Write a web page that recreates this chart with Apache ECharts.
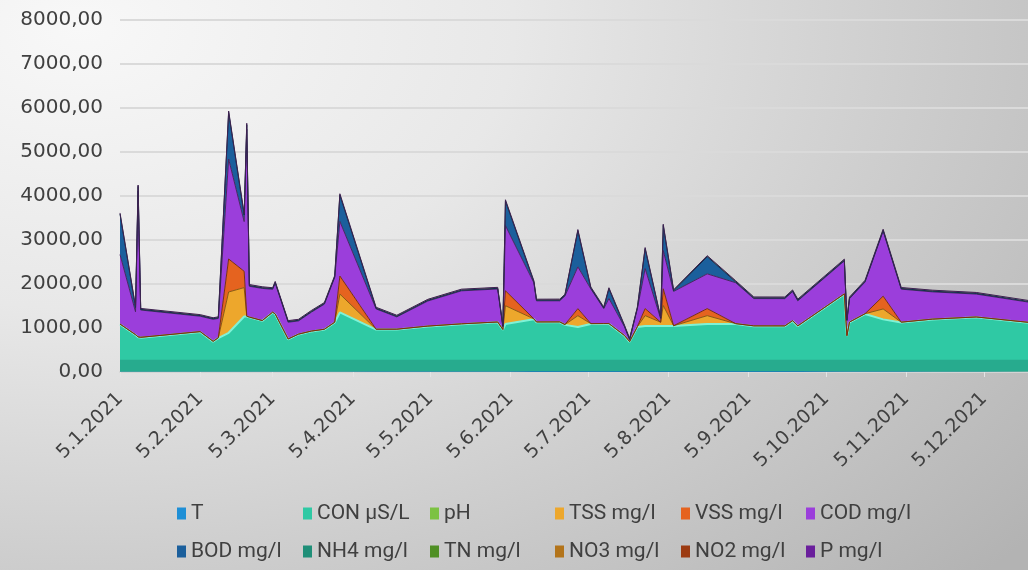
<!DOCTYPE html>
<html>
<head>
<meta charset="utf-8">
<script src="https://cdn.jsdelivr.net/npm/echarts@6/dist/echarts.min.js"></script>
<style>
  html, body { margin: 0; padding: 0; }
  #chart {
    width: 1028px; height: 570px;
    background: radial-gradient(ellipse 120% 140% at 8% 5%, #f8f8f8 0%, #e8e8e8 35%, #cfcfcf 65%, #b3b3b3 100%);
  }
</style>
</head>
<body>
<div id="chart"></div>
<script>
var chart = echarts.init(document.getElementById('chart'));

// sample dates
var dates = ['2021-01-05','2021-01-11','2021-01-12','2021-01-13','2021-02-05','2021-02-10','2021-02-12','2021-02-16','2021-02-22','2021-02-23',
             '2021-02-24','2021-03-01','2021-03-05','2021-03-06','2021-03-11','2021-03-15','2021-03-20','2021-03-25','2021-03-29','2021-03-31',
             '2021-04-14','2021-04-22','2021-05-04','2021-05-17','2021-05-31','2021-06-02','2021-06-03','2021-06-14','2021-06-15','2021-06-24',
             '2021-06-26','2021-07-01','2021-07-06','2021-07-11','2021-07-13','2021-07-19','2021-07-21','2021-07-24','2021-07-27','2021-08-02',
             '2021-08-03','2021-08-07','2021-08-20','2021-08-31','2021-09-07','2021-09-19','2021-09-22','2021-09-24','2021-10-12','2021-10-13',
             '2021-10-14','2021-10-20','2021-10-27','2021-11-03','2021-11-15','2021-12-02','2021-12-22'];

// x axis ticks (5th of each month)
var tickDates = ['2021-01-05','2021-02-05','2021-03-05','2021-04-05','2021-05-05','2021-06-05',
                 '2021-07-05','2021-08-05','2021-09-05','2021-10-05','2021-11-05','2021-12-05'];

var seriesNames = ['T','CON µS/L','pH','TSS mg/l','VSS mg/l','COD mg/l','BOD mg/l','NH4 mg/l','TN mg/l','NO3 mg/l','NO2 mg/l','P mg/l'];

var T   = [12,11,11,11,10,10,10,11,11,11, 11,12,12,12,13,13,13,14,14,14, 15,15,16,17,19,19,19,20,20,21, 21,22,22,23,23,23,24,24,24,24, 24,24,23,22,21,20,20,20,18,18, 18,17,16,15,14,13,12];
var CON = [1070,830,780,770,900,680,760,880,1250,1250, 1230,1150,1340,1300,730,840,910,950,1110,1340, 950,950,1020,1070,1110,940,1070,1180,1110,1110,
           1050,1000,1070,1070,1070,800,660,1000,1020,1020, 1020,1020,1070,1070,1020,1020,1140,1020,1750,800, 1110,1300,1180,1110,1180,1230,1110];
var pH  = [7.6,7.5,7.4,7.5,7.7,7.6,7.5,7.3,7.4,7.2, 7.5,7.6,7.5,7.5,7.7,7.6,7.6,7.5,7.4,7.3, 7.6,7.7,7.6,7.5,7.5,7.6,7.2,7.4,7.5,7.6,
           7.5,7.3,7.4,7.6,7.5,7.7,7.8,7.6,7.3,7.5, 7.2,7.4,7.3,7.4,7.5,7.6,7.5,7.6,7.4,7.7, 7.5,7.5,7.2,7.5,7.6,7.6,7.7];
var TSS = [0,0,0,0,0,0,0,920,650,0, 0,0,0,0,0,0,0,0,0,410, 0,0,0,0,0,0,410,0,0,0, 0,250,0,0,0,0,0,0,230,80, 460,0,180,0,0,0,0,0,0,0, 0,0,230,0,0,0,0];
var VSS = [0,0,0,0,0,0,0,750,370,0, 0,0,0,0,0,0,0,0,0,410, 0,0,0,0,0,0,340,0,0,0, 0,160,0,0,0,0,0,0,160,0, 380,0,160,0,0,0,0,0,0,0, 0,0,290,0,0,0,0];
var COD = [1580,520,3320,620,350,500,440,2270,1130,4250, 700,730,520,700,380,300,430,570,1020,1240, 460,280,570,750,750,60,1480,820,480,480,
           650,950,790,340,570,200,40,410,910,80, 870,780,790,930,620,620,660,570,750,340, 530,720,1480,750,620,520,460];
var BOD = [920,100,100,15,15,15,15,1060,150,100, 15,15,15,15,15,15,15,15,15,600, 15,15,15,15,15,15,560,20,15,15, 15,820,20,15,220,15,15,15,450,15,
           570,15,390,20,15,15,15,15,15,15, 15,15,15,15,15,15,15];
var NH4 = [4,3,6,3,3,3,3,7,5,7, 4,3,3,4,3,3,3,3,4,6, 3,3,3,3,3,3,5,4,3,3, 3,5,4,3,4,3,2,3,5,3, 5,4,4,4,3,3,3,3,4,3, 3,4,5,3,3,3,3];
var TN  = [8,7,11,7,6,6,7,12,9,12, 8,7,7,8,6,6,7,7,8,10, 7,6,6,7,7,6,10,8,7,7, 7,9,7,6,8,6,5,7,9,6, 10,7,8,8,7,6,7,7,8,6, 7,7,9,7,7,6,6];
var NO3 = [6,5,4,5,7,6,5,3,4,3, 5,6,5,5,8,7,7,6,5,4, 7,8,8,7,6,6,4,5,6,7, 6,5,5,6,5,7,8,6,4,5, 3,5,4,5,6,7,6,7,5,8, 6,5,4,6,7,7,8];
var NO2 = [0.3,0.2,0.4,0.2,0.2,0.3,0.2,0.5,0.4,0.5, 0.3,0.3,0.2,0.3,0.2,0.2,0.3,0.3,0.4,0.5, 0.3,0.2,0.3,0.3,0.3,0.2,0.4,0.3,0.3,0.3,
           0.3,0.4,0.3,0.2,0.3,0.2,0.2,0.3,0.4,0.2, 0.4,0.3,0.3,0.3,0.3,0.2,0.3,0.3,0.3,0.2, 0.3,0.3,0.4,0.3,0.3,0.2,0.2];
var P   = [7,6,10,6,5,5,6,11,9,12, 7,6,6,7,5,5,6,6,8,9, 6,5,6,6,6,5,9,7,6,6, 6,8,7,6,7,5,4,6,8,5, 9,6,7,7,6,6,6,6,7,5, 6,7,9,6,6,6,5];

var values = [T, CON, pH, TSS, VSS, COD, BOD, NH4, TN, NO3, NO2, P];
var COLORS = ['#1e8fd6','#2fc9a4','#7cc242','#eda72c','#e5631f','#9b3edb','#1b5f9c','#1f8f78','#4f8f24','#b3741a','#9c3b12','#6a1f9c'];
var LINES  = [null, '#7ff2d6', null, '#8a5a12', '#7a3010', '#4a2462', '#12304c', null, null, null, null, '#3e2250'];

function toTime(s) {
  var p = s.split('-');
  return new Date(+p[0], +p[1] - 1, +p[2]).getTime();
}
var tickValues = tickDates.map(toTime);

var series = seriesNames.map(function (name, k) {
  var s = {
    name: name,
    type: 'line',
    stack: 'total',
    showSymbol: false,
    symbol: 'none',
    smooth: false,
    // value first so the stack sums the y value, not the date
    encode: { x: 1, y: 0 },
    itemStyle: { color: COLORS[k] },
    areaStyle: { color: COLORS[k], opacity: 1 },
    lineStyle: LINES[k] ? { color: LINES[k], width: k == 1 ? 2 : 1 } : { width: 0 },
    data: dates.map(function (d, i) { return [values[k][i], toTime(d)]; })
  };
  if (k == values.length - 1) {
    // darker band along the floor
    s.markArea = {
      silent: true,
      z: 10,
      itemStyle: { color: 'rgba(25,110,95,0.32)' },
      data: [[{ yAxis: 0 }, { yAxis: 280 }]]
    };
  }
  return s;
});

var legendText = {
  fontFamily: 'Roboto',
  fontSize: 21,
  color: '#404040'
};
var colLeft = [177, 303, 430, 555, 681, 806];
var legends = colLeft.map(function (x, c) {
  return {
    data: [seriesNames[c], seriesNames[c + 6]],
    orient: 'vertical',
    left: x,
    top: 503,
    padding: 0,
    icon: 'rect',
    itemWidth: 9,
    itemHeight: 12,
    itemGap: 17,
    textStyle: legendText
  };
});

var option = {
  backgroundColor: 'transparent',
  animation: false,
  grid: { left: 120, right: 0, top: 20, bottom: 198 },
  xAxis: {
    type: 'value',
    min: toTime('2021-01-05'),
    max: toTime('2021-12-22'),
    axisLine: { lineStyle: { color: '#d4d4d4', width: 2 } },
    axisTick: { show: true, length: 5, customValues: tickValues, lineStyle: { color: '#e4e4e4' } },
    splitLine: { show: false },
    axisLabel: {
      customValues: tickValues,
      rotate: 45,
      margin: 24,
      fontFamily: 'DejaVu Sans',
      fontSize: 19,
      color: '#404040',
      formatter: function (v) {
        var d = new Date(v);
        return d.getDate() + '.' + (d.getMonth() + 1) + '.' + d.getFullYear();
      }
    }
  },
  yAxis: {
    type: 'value',
    min: 0,
    max: 8000,
    interval: 1000,
    axisLine: { show: false },
    axisTick: { show: false },
    splitLine: { lineStyle: { color: '#dadada', width: 2 } },
    axisLabel: {
      margin: 17,
      fontFamily: 'DejaVu Sans',
      fontSize: 20,
      color: '#404040',
      formatter: function (v) { return v.toFixed(2).replace('.', ','); }
    }
  },
  legend: legends,
  series: series
};
chart.setOption(option);
</script>
</body>
</html>
